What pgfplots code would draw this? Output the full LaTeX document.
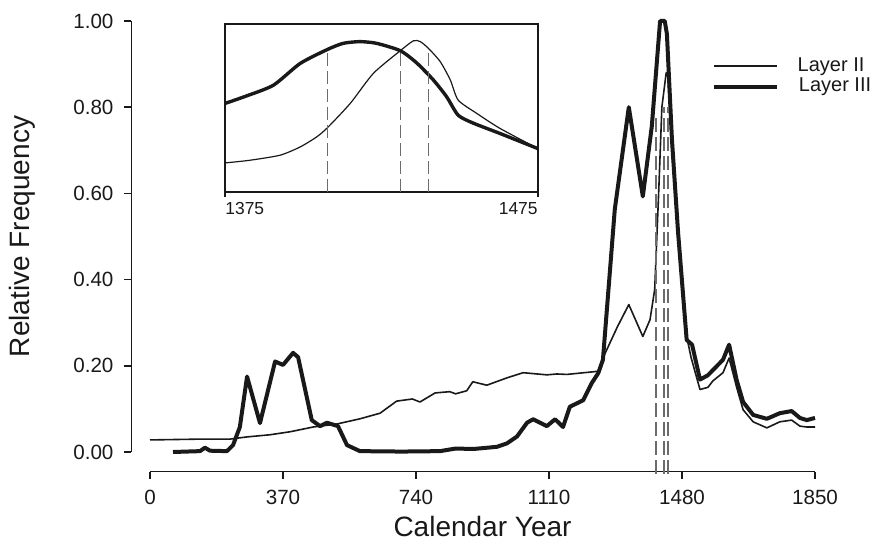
\documentclass[border=0pt]{standalone}
\usepackage{fontspec}
\setmainfont{Liberation Sans}
\usepackage{pgfplots}
\usepackage{pgfplotstable}
\pgfplotsset{compat=1.18}

\definecolor{ink}{gray}{0.1}
\definecolor{dashgray}{gray}{0.42}

% main curves: year, relative frequency
\pgfplotstableread{
year val
0    0.028
147  0.030
223  0.030
270  0.035
334  0.040
390  0.047
454  0.058
520  0.065
584  0.077
640  0.090
686  0.118
730  0.123
751  0.116
793  0.137
834  0.140
850  0.135
881  0.142
898  0.163
937  0.155
993  0.172
1038 0.184
1104 0.179
1132 0.181
1160 0.180
1232 0.186
1252 0.188
1260 0.218
1300 0.290
1332 0.342
1371 0.268
1391 0.307
1404 0.377
1415 0.600
1424 0.800
1436 0.880
1441 0.870
1452 0.700
1469 0.500
1490 0.280
1505 0.220
1530 0.145
1552 0.150
1566 0.165
1594 0.184
1611 0.218
1632 0.150
1650 0.098
1678 0.070
1716 0.056
1752 0.070
1785 0.074
1808 0.060
1827 0.058
1850 0.058
}\layerII

\pgfplotstableread{
year val
64   0.000
139  0.002
153  0.010
167  0.003
214  0.002
231  0.016
250  0.058
270  0.175
306  0.067
348  0.210
370  0.202
398  0.230
412  0.220
450  0.074
473  0.060
492  0.068
523  0.060
548  0.016
584  0.002
700  0.001
807  0.002
850  0.008
900  0.007
965  0.012
993  0.020
1021 0.036
1049 0.068
1066 0.076
1104 0.060
1127 0.076
1149 0.058
1168 0.105
1205 0.120
1229 0.160
1247 0.183
1260 0.214
1293 0.563
1332 0.800
1371 0.593
1396 0.756
1419 1.000
1432 1.000
1438 0.970
1452 0.725
1469 0.510
1493 0.260
1508 0.249
1530 0.168
1552 0.178
1566 0.190
1594 0.214
1611 0.249
1632 0.167
1650 0.116
1678 0.086
1716 0.077
1752 0.090
1785 0.095
1808 0.079
1827 0.074
1850 0.079
}\layerIII

% inset (1375-1475), own vertical scale
\pgfplotstableread{
year val
1375   0.173
1383   0.189
1392.6 0.219
1399   0.268
1404.3 0.328
1407.8 0.384
1415   0.527
1422.4 0.706
1431   0.841
1435.2 0.900
1437.4 0.895
1440   0.855
1443.8 0.775
1447   0.666
1449.5 0.547
1455.5 0.467
1462.9 0.378
1475   0.258
}\insetII

\pgfplotstableread{
year val
1375   0.527
1381.9 0.572
1390.5 0.636
1399   0.765
1407.8 0.849
1412.8 0.885
1418.1 0.895
1423.4 0.885
1431   0.841
1436.2 0.769
1441.6 0.666
1445.8 0.567
1449.5 0.457
1454.3 0.410
1462.9 0.348
1475   0.258
}\insetIII

\begin{document}
\begin{tikzpicture}
\useasboundingbox (-75pt,-46.5pt) rectangle (363pt,226pt);

\begin{axis}[
    name=main,
    at={(0,0)}, anchor=south west,
    scale only axis,
    width=332.5pt, height=215.5pt,
    xmin=0, xmax=1850, ymin=0, ymax=1,
    clip=false,
    axis x line=bottom, axis y line=left,
    axis line style={-, ink, line width=0.8pt},
    axis x line shift=9.75pt,
    axis y line shift=9.25pt,
    xtick={0,370,740,1110,1480,1850},
    ytick={0,0.2,0.4,0.6,0.8,1},
    tick align=outside,
    major tick length=3.5pt,
    tick style={ink, line width=0.8pt},
    /pgf/number format/assume math mode=true,
    ticklabel style={font=\fontsize{10.3}{12}\selectfont, text=ink},
    yticklabel style={xshift=-2pt, /pgf/number format/.cd, fixed, fixed zerofill, precision=2},
    xticklabel style={yshift=-2.5pt, /pgf/number format/.cd, set thousands separator={}},
    xlabel={Calendar Year},
    ylabel={Relative Frequency},
    label style={font=\fontsize{14}{16}\selectfont, text=ink},
    xlabel style={at={(axis description cs:0.5,-0.196)}, anchor=base},
    ylabel style={at={(axis description cs:-0.1925,0.5)}, anchor=center},
]
\addplot[ink, line width=0.8pt, line join=round] table[x=year, y=val] {\layerII};
\addplot[ink, line width=2pt, line join=round] table[x=year, y=val] {\layerIII};

\addplot[dashgray, line width=0.8pt, dash pattern=on 7pt off 2.5pt] coordinates {(1408,-0.05) (1408,0.78)};
\addplot[dashgray, line width=0.8pt, dash pattern=on 7pt off 2.5pt] coordinates {(1430,-0.05) (1430,0.80)};
\addplot[dashgray, line width=0.8pt, dash pattern=on 7pt off 2.5pt] coordinates {(1441,-0.05) (1441,0.80)};

% legend
\draw[ink, line width=0.8pt] (axis cs:1569,0.895) -- (axis cs:1744,0.895)
    node[anchor=west, xshift=10pt, inner sep=0, font=\fontsize{10}{12}\selectfont, text=ink] {Layer II};
\draw[ink, line width=2pt] (axis cs:1569,0.847) -- (axis cs:1744,0.847)
    node[anchor=west, xshift=10pt, inner sep=0, font=\fontsize{10}{12}\selectfont, text=ink] {Layer III};
\end{axis}

\begin{axis}[
    at={(37.5pt,130pt)}, anchor=south west,
    scale only axis,
    width=156.5pt, height=84pt,
    xmin=1375, xmax=1475, ymin=0, ymax=1,
    clip=false,
    axis line style={ink, line width=0.7pt},
    xtick={1375,1475}, xticklabels={},
    xtick pos=lower,
    ytick=\empty,
    tick align=outside,
    major tick length=2.5pt,
    tick style={ink, line width=0.7pt},
]
\addplot[ink, line width=0.6pt, smooth, tension=0.4] table[x=year, y=val] {\insetII};
\addplot[ink, line width=1.7pt, smooth, tension=0.4] table[x=year, y=val] {\insetIII};

\addplot[dashgray, line width=0.75pt, dash pattern=on 6.5pt off 2.5pt] coordinates {(1407.8,0) (1407.8,0.84)};
\addplot[dashgray, line width=0.75pt, dash pattern=on 6.5pt off 2.5pt] coordinates {(1431,0) (1431,0.84)};
\addplot[dashgray, line width=0.75pt, dash pattern=on 6.5pt off 2.5pt] coordinates {(1440,0) (1440,0.85)};

\node[anchor=base west, inner sep=0, yshift=-11.5pt, font=\fontsize{8.7}{10}\selectfont, text=ink] at (rel axis cs:0,0) {1375};
\node[anchor=base east, inner sep=0, yshift=-11.5pt, font=\fontsize{8.7}{10}\selectfont, text=ink] at (rel axis cs:1,0) {1475};
\end{axis}
\end{tikzpicture}
\end{document}
